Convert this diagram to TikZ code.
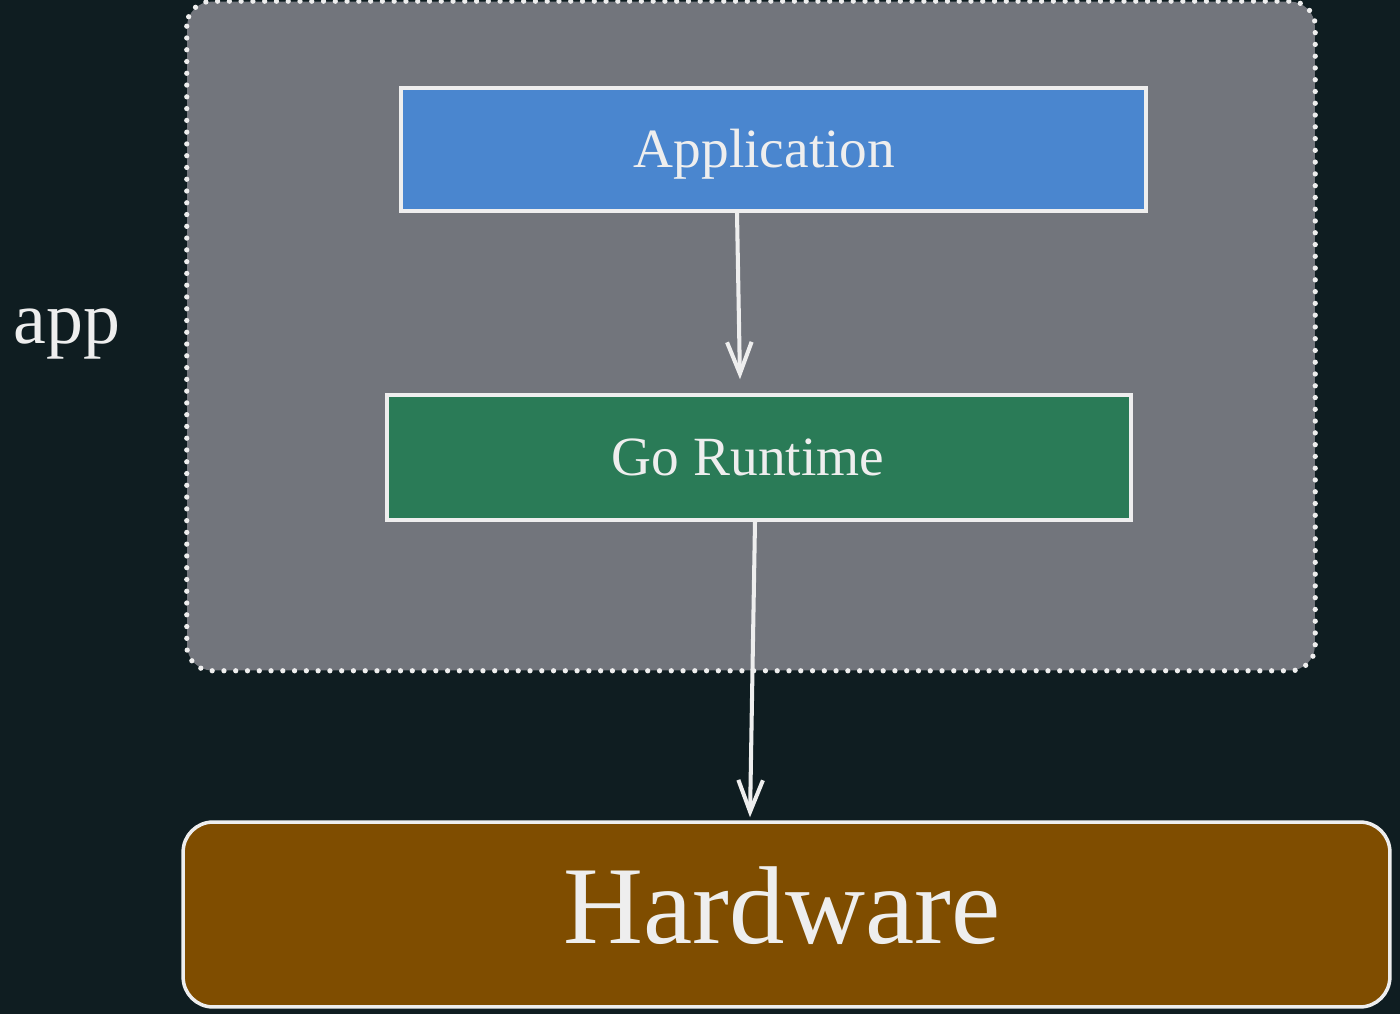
\documentclass[tikz,border=0pt]{standalone}
\usepackage{fontspec}
\setmainfont{Liberation Serif}
\usetikzlibrary{arrows.meta,calc}
\definecolor{bgc}{HTML}{0F1D21}
\definecolor{grpc}{HTML}{72757C}
\definecolor{appc}{HTML}{4A86CF}
\definecolor{rtc}{HTML}{2A7B57}
\definecolor{hwc}{HTML}{7F4D00}
\definecolor{linec}{HTML}{EEEEEE}
\tikzset{
  layerbox/.style={draw=linec, line width=2pt, text=linec, inner sep=0pt},
  arr/.style={draw=linec, line width=2.3pt, line cap=round, -{Straight Barb[length=18pt,width=14pt,line width=2.3pt]}},
  dotframe/.style={draw=linec, line width=3pt, dash pattern=on 0pt off 6.7pt, line cap=round},
}
\begin{document}
\begin{tikzpicture}[x=0.02cm,y=-0.02cm]
\useasboundingbox (0,0) rectangle (1400,1014);
\fill[bgc] (0,0) rectangle (1400,1014);
% group
\node[fill=grpc, rounded corners=0.5cm, minimum width=22.56cm, minimum height=13.38cm, inner sep=0pt] (grp) at (751,336) {};
\draw[dotframe, rounded corners=0.5cm] (grp.north west) rectangle (grp.south east);
\node[text=linec, font=\fontsize{42}{50}\selectfont, anchor=base] (lbl) at (67,343) {app};
% boxes
\node[layerbox, fill=appc, minimum width=14.9cm, minimum height=2.46cm, text height=0.94cm, font=\fontsize{31.5}{38}\selectfont] (app) at (773.5,149.5) {\hspace*{-0.36cm}Application};
\node[layerbox, fill=rtc, minimum width=14.88cm, minimum height=2.5cm, font=\fontsize{31.5}{38}\selectfont] (rt) at (759,457.5) {\hspace*{-0.44cm}Go Runtime};
\node[layerbox, fill=hwc, rounded corners=0.6cm, minimum width=24.14cm, minimum height=3.7cm, text depth=0.36cm, font=\fontsize{63}{72}\selectfont] (hw) at (786.5,914.5) {\hspace*{-0.18cm}Hardware};
% arrows
\draw[arr] ($(app.south)+(-36.5,0)$) -- ($(rt.north)+(-19,-14)$);
\draw[arr] ($(rt.south)+(-4,0)$) -- ($(hw.north)+(-36.5,-3)$);
\end{tikzpicture}
\end{document}
